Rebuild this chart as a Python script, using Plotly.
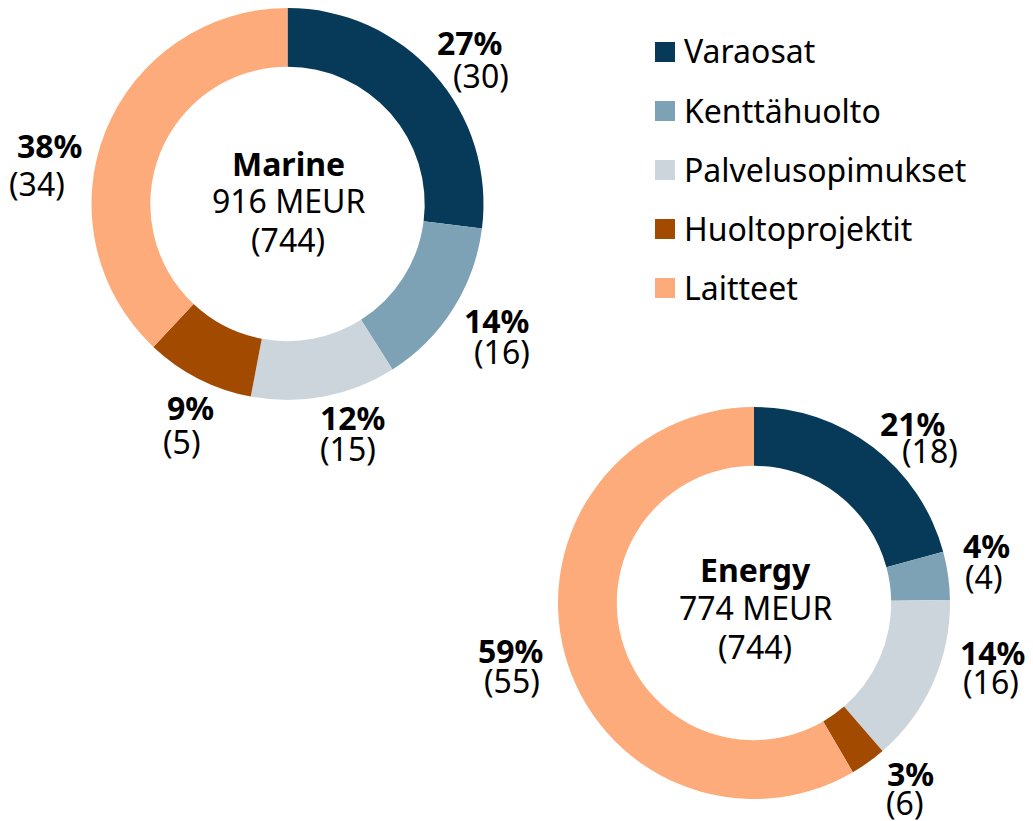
import plotly.graph_objects as go

# ---- data ----
categories = ["Varaosat", "Kenttähuolto", "Palvelusopimukset", "Huoltoprojektit", "Laitteet"]
marine_pct = [27, 14, 12, 9, 38]
marine_prev = [30, 16, 15, 5, 34]
energy_pct = [21, 4, 14, 3, 59]
energy_prev = [18, 4, 16, 6, 55]
segments = ["Marine", "Energy"]
segment_totals = ["916 MEUR", "774 MEUR"]
segment_prev_totals = ["(744)", "(744)"]

colors = ["#073a59", "#7da2b6", "#cdd5dc", "#a24a00", "#fdab7b"]

W, H = 1033, 821
FONT = "Noto Sans"
FS = 32


def px(x):
    return x / W


def py(y):
    return 1 - y / H


fig = go.Figure()

# pie domains (page pixel boxes: left, right, top, bottom)
boxes = {"Marine": (91.5, 483.5, 8, 400), "Energy": (558, 950, 407, 799)}

for name, vals in (("Marine", marine_pct), ("Energy", energy_pct)):
    l, r, t, b = boxes[name]
    fig.add_trace(go.Pie(
        labels=categories,
        values=vals,
        hole=0.70,
        sort=False,
        direction="clockwise",
        rotation=0,
        marker=dict(colors=colors, line=dict(width=0)),
        textinfo="none",
        hoverinfo="label+percent",
        showlegend=False,
        domain=dict(x=[px(l), px(r)], y=[py(b), py(t)]),
    ))

# label positions (page pixel centres): (pct_x, pct_y, prev_x, prev_y)
label_pos = {
    "Marine": [(469, 44, 481, 76), (496, 322, 502, 352), (352, 418, 348, 449),
               (190, 408, 182, 442), (49, 147, 37, 184)],
    "Energy": [(912, 424, 930, 451), (986, 546, 984, 577), (992, 653, 991, 682),
               (910, 774, 905, 803), (510, 651, 512, 681)],
}
center_pos = {"Marine": (288, 165, 202, 241), "Energy": (755, 570, 608, 647)}

TEXT_DY = -1  # offset from cap centre to text-box centre

annotations = []
for name, pcts, prevs in (("Marine", marine_pct, marine_prev), ("Energy", energy_pct, energy_prev)):
    for (ax, ay, bx, by), p, pv in zip(label_pos[name], pcts, prevs):
        annotations.append(dict(x=px(ax), y=py(ay + TEXT_DY), text=f"<b>{p}%</b>",
                                showarrow=False, xanchor="center", yanchor="middle",
                                font=dict(family=FONT, size=FS, color="#000000")))
        annotations.append(dict(x=px(bx), y=py(by + TEXT_DY), text=f"({pv})",
                                showarrow=False, xanchor="center", yanchor="middle",
                                font=dict(family=FONT, size=FS, color="#000000")))

for name, tot, prev in zip(segments, segment_totals, segment_prev_totals):
    cx, y1, y2, y3 = center_pos[name]
    annotations.append(dict(x=px(cx), y=py(y1 + TEXT_DY), text=f"<b>{name}</b>", showarrow=False,
                            xanchor="center", yanchor="middle",
                            font=dict(family=FONT, size=FS, color="#000000")))
    annotations.append(dict(x=px(cx), y=py(y2 + TEXT_DY), text=tot, showarrow=False,
                            xanchor="center", yanchor="middle",
                            font=dict(family=FONT, size=FS, color="#000000")))
    annotations.append(dict(x=px(cx), y=py(y3 + TEXT_DY), text=prev, showarrow=False,
                            xanchor="center", yanchor="middle",
                            font=dict(family=FONT, size=FS, color="#000000")))

# custom legend (squares + labels)
shapes = []
leg_x0, leg_size, leg_text_x = 655, 20, 682
leg_rows = [52, 111, 170, 229, 288]
for cat, col, yc in zip(categories, colors, leg_rows):
    shapes.append(dict(type="rect", xref="paper", yref="paper",
                       x0=px(leg_x0), x1=px(leg_x0 + leg_size),
                       y0=py(yc + leg_size / 2), y1=py(yc - leg_size / 2),
                       fillcolor=col, line=dict(width=0)))
    annotations.append(dict(x=px(leg_text_x), y=py(yc + TEXT_DY), text=cat, showarrow=False,
                            xanchor="left", yanchor="middle",
                            font=dict(family=FONT, size=FS, color="#000000")))

fig.update_layout(
    width=W, height=H,
    margin=dict(l=0, r=0, t=0, b=0),
    paper_bgcolor="white",
    plot_bgcolor="white",
    font=dict(family=FONT, size=FS),
    annotations=annotations,
    shapes=shapes,
    showlegend=False,
)

# remove the default page margin so the figure fills the window exactly
fig.write_html("out.html",
               config={"displayModeBar": False},
               post_script="document.body.style.margin='0';document.body.style.overflow='hidden';")
